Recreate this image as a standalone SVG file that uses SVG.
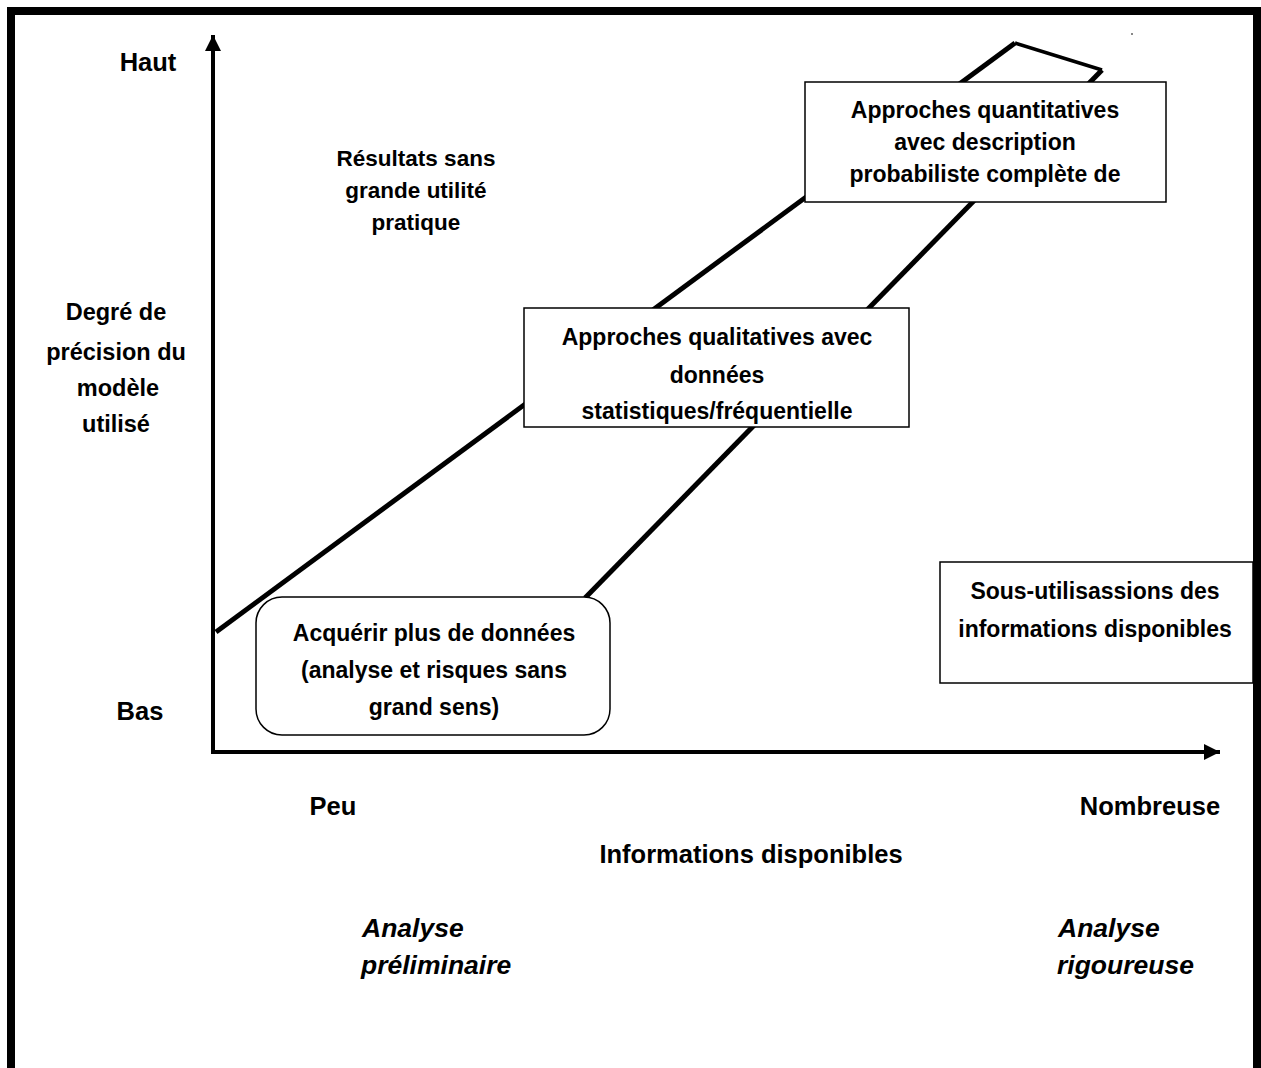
<svg xmlns="http://www.w3.org/2000/svg" width="1261" height="1068" viewBox="0 0 1261 1068">
<style>
text{font-family:"Liberation Sans",Arial,sans-serif;font-weight:bold;font-size:23px;fill:#000;text-anchor:middle}
.ax{font-size:25.5px}
.yl{font-size:23.5px}
.rs{font-size:22.5px}
.it{font-style:italic;text-anchor:start;font-size:26.5px}
.box{fill:#fff;stroke:#000;stroke-width:1.5}
.ln{stroke:#000;stroke-width:5;fill:none}
</style>
<defs>
<marker id="ah" viewBox="0 0 10 10" refX="10" refY="5" markerWidth="16" markerHeight="16" markerUnits="userSpaceOnUse" orient="auto"><path d="M0,0 L10,5 L0,10 z" fill="#000"/></marker>
</defs>
<rect width="1261" height="1068" fill="#fff"/>
<rect x="11" y="11" width="1246" height="1062" fill="none" stroke="#000" stroke-width="8"/>
<rect x="1131" y="33" width="2" height="2" fill="#888"/>
<g id="connectors">
<line x1="213" y1="754" x2="213" y2="35" stroke="#000" stroke-width="4" marker-end="url(#ah)"/>
<line x1="211" y1="752" x2="1220" y2="752" stroke="#000" stroke-width="4" marker-end="url(#ah)"/>
<line class="ln" x1="216" y1="632" x2="1015" y2="43"/>
<line class="ln" x1="585" y1="598" x2="1102" y2="70"/>
<line x1="1015" y1="43" x2="1102" y2="70" stroke="#000" stroke-width="3.5"/>
</g>
<g id="axis-labels">
<text class="ax" x="148" y="71">Haut</text>
<text class="ax" x="140" y="720">Bas</text>
<text class="yl" x="116" y="320">Degré de</text>
<text class="yl" x="116" y="360">précision du</text>
<text class="yl" x="118" y="396">modèle</text>
<text class="yl" x="116" y="432">utilisé</text>
<text class="ax" x="333" y="815">Peu</text>
<text class="ax" x="1150" y="815">Nombreuse</text>
<text class="ax" x="751" y="863">Informations disponibles</text>
<text class="it" x="362" y="937">Analyse</text>
<text class="it" x="361" y="974">préliminaire</text>
<text class="it" x="1058" y="937">Analyse</text>
<text class="it" x="1057" y="974">rigoureuse</text>
</g>
<g id="resultats">
<text class="rs" x="416" y="166">Résultats sans</text>
<text class="rs" x="416" y="198">grande utilité</text>
<text class="rs" x="416" y="230">pratique</text>
</g>
<g id="box-quantitatives">
<rect class="box" x="805" y="82" width="361" height="120"/>
<text x="985" y="118">Approches quantitatives</text>
<text x="985" y="150">avec description</text>
<text x="985" y="182">probabiliste complète de</text>
</g>
<g id="box-qualitatives">
<rect class="box" x="524" y="308" width="385" height="119"/>
<text x="717" y="345">Approches qualitatives avec</text>
<text x="717" y="383">données</text>
<text x="717" y="419">statistiques/fréquentielle</text>
</g>
<g id="box-acquerir">
<rect class="box" x="256" y="597" width="354" height="138" rx="26" ry="26"/>
<text x="434" y="641">Acquérir plus de données</text>
<text x="434" y="678">(analyse et risques sans</text>
<text x="434" y="715">grand sens)</text>
</g>
<g id="box-sous">
<rect class="box" x="940" y="562" width="313" height="121"/>
<text x="1095" y="599">Sous-utilisassions des</text>
<text x="1095" y="637">informations disponibles</text>
</g>
</svg>
